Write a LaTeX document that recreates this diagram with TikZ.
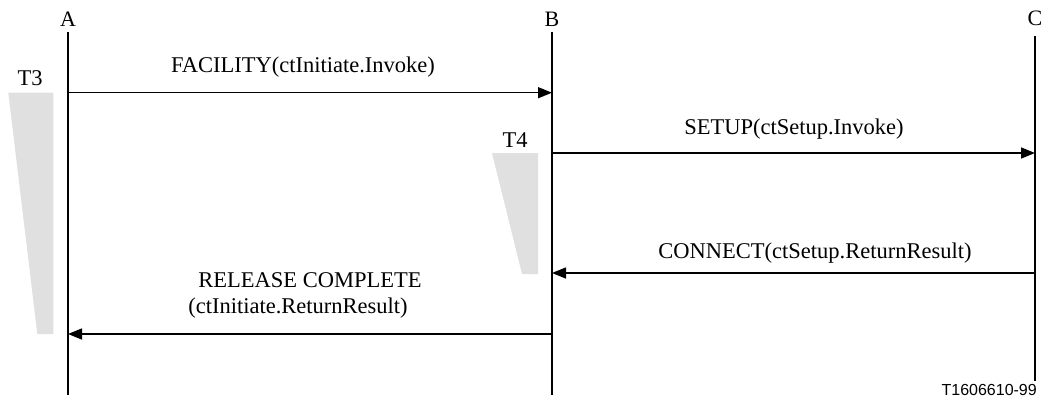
\documentclass[tikz,border=0pt]{standalone}
\usepackage{fontspec}
\setmainfont{Liberation Serif}
\newfontfamily\arialfont{Liberation Sans}
\usetikzlibrary{arrows.meta}
\tikzset{
  lifeline/.style={line width=1.8pt},
  msg/.style={line width=1.5pt,-{Triangle[length=14pt,width=11pt]}},
  timer/.style={fill=black!12,draw=none},
  lbl/.style={inner sep=0pt,anchor=base,font=\fontsize{22.5}{26}\selectfont},
  head/.style={inner sep=0pt,anchor=base,font=\fontsize{22}{26}\selectfont},
}
\begin{document}
\begin{tikzpicture}[x=1pt,y=-1pt]
\useasboundingbox (0,0) rectangle (1045,399);
% lifeline heads
\node[head] (A) at (68,26) {A};
\node[head] (B) at (552,26) {B};
\node[head] (C) at (1035,25) {C};
\coordinate (At) at (68,32); \coordinate (Ab) at (68,395);
\coordinate (Bt) at (552,32); \coordinate (Bb) at (552,395);
\coordinate (Ct) at (1035,36); \coordinate (Cb) at (1035,381);
\draw[lifeline] (At) -- (Ab);
\draw[lifeline] (Bt) -- (Bb);
\draw[lifeline] (Ct) -- (Cb);
% timers
\fill[timer] (8.3,92.7) -- (53.3,92.7) -- (53.3,334) -- (37.3,334) -- cycle;
\node[lbl] (T3) at (30,85) {T3};
\fill[timer] (492,153) -- (538,153) -- (538,274) -- (522,274) -- cycle;
\node[lbl] (T4) at (515,147) {T4};
% messages
\coordinate (A1) at (68,92.7); \coordinate (B1) at (552,92.7);
\draw[msg] (A1) -- (B1);
\node[lbl] (m1) at (303,72) {FACILITY(ctInitiate.Invoke)};
\coordinate (B2) at (552,153); \coordinate (C2) at (1035,153);
\draw[msg] (B2) -- (C2);
\node[lbl] (m2) at (794,134) {SETUP(ctSetup.Invoke)};
\coordinate (C3) at (1035,273); \coordinate (B3) at (552,273);
\draw[msg] (C3) -- (B3);
\node[lbl] (m3) at (815,258) {CONNECT(ctSetup.ReturnResult)};
\coordinate (B4) at (552,334); \coordinate (A4) at (68,334);
\draw[msg] (B4) -- (A4);
\node[lbl] (m4a) at (310,287) {RELEASE COMPLETE};
\node[lbl] (m4b) at (298,313) {(ctInitiate.ReturnResult)};
% figure id
\node[inner sep=0pt,anchor=base east,font=\arialfont\fontsize{16}{18}\selectfont] (id) at (1037,395) {T1606610-99};
\end{tikzpicture}
\end{document}
